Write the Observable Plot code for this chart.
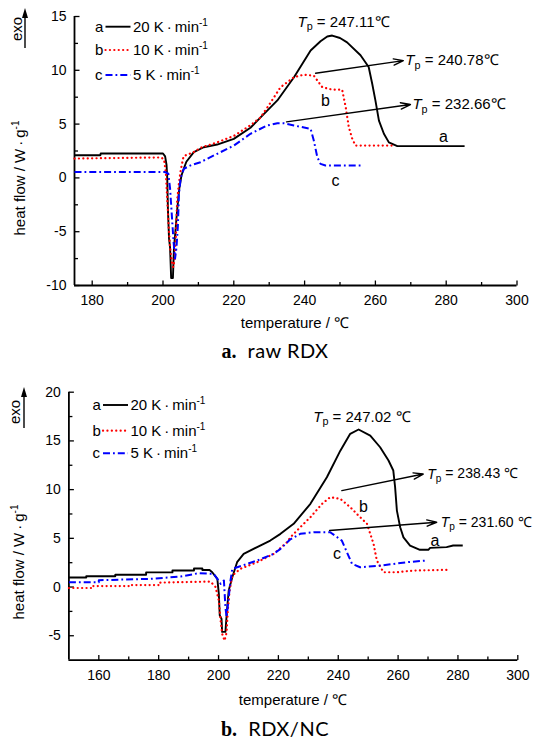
<!DOCTYPE html>
<html><head><meta charset="utf-8">
<script src="https://cdn.jsdelivr.net/npm/d3@7"></script>
<script src="https://cdn.jsdelivr.net/npm/@observablehq/plot@0.6"></script>
<style>
body{margin:0;background:#fff;}
#fig{position:relative;width:536px;height:742px;background:#fff;font-family:"Liberation Sans",Arial,sans-serif;overflow:hidden;}
#fig .panel{position:absolute;left:0;}
#fig .cap{position:absolute;left:0;width:536px;text-align:center;font-size:20px;line-height:24px;padding-left:14px;box-sizing:border-box;}
#fig .cap b{font-family:"Liberation Serif","Times New Roman",serif;font-weight:bold;}
#fig .cap span{font-family:Lato,"Open Sans",sans-serif;letter-spacing:0.5px;}
#overlay{position:absolute;left:0;top:0;pointer-events:none;}
</style></head><body><div id="fig"></div>
<script>
// ---------- Panel a: raw RDX ----------
const rdx20T = [175, 182.3, 182.4, 200.0, 200.6, 201.0, 201.2, 201.4, 201.7, 202.0, 202.3, 202.8, 203.1, 203.5, 204.0, 204.6, 205.2, 205.8, 206.6, 208.7, 211.5, 215.3, 220.0, 224.7, 227.5, 232.3, 237.0, 241.7, 244.5, 246.4, 247.8, 250.0, 252.0, 255.8, 258.1, 259.1, 260.0, 261.0, 262.4, 263.8, 266.2, 285.2];
const rdx20Q = [2.1, 2.1, 2.27, 2.27, 2.0, 1.2, 0, -3.0, -5.6, -6.5, -9.3, -9.3, -6.5, -5.0, -3.0, -1.0, 0.2, 0.8, 1.5, 2.4, 2.85, 3.1, 3.63, 4.66, 5.6, 7.2, 9.36, 11.84, 12.7, 13.14, 13.23, 13.0, 12.6, 11.4, 10.3, 8.75, 7.2, 5.33, 4.1, 3.3, 2.95, 2.95];
const rdx10T = [175, 199.5, 200.3, 200.8, 201.2, 201.6, 202.0, 202.5, 202.9, 203.3, 203.6, 204.0, 204.5, 205.0, 205.8, 207.0, 208.2, 210.6, 215.3, 220.0, 224.7, 227.5, 230.0, 233.2, 237.0, 239.8, 242.6, 245.0, 247.8, 250.6, 251.6, 252.5, 253.5, 254.4, 265.2];
const rdx10Q = [1.8, 1.9, 1.7, 0.5, -2.0, -4.5, -6.5, -7.8, -8.3, -7.5, -5.8, -2.1, -0.5, 0.7, 2.0, 2.2, 2.3, 2.8, 3.3, 3.9, 4.9, 5.6, 6.8, 8.43, 9.36, 9.6, 9.5, 8.43, 8.2, 8.2, 6.6, 4.7, 3.6, 3.0, 3.0];
const rdx5T = [175, 200.5, 201.5, 202.0, 202.5, 203.0, 203.4, 203.8, 204.2, 204.5, 205.0, 205.9, 208.0, 210.6, 215.3, 220.0, 224.7, 229.4, 232.3, 234.1, 237.0, 241.7, 242.6, 243.6, 244.5, 245.9, 255.8];
const rdx5Q = [0.55, 0.55, 0.4, -1.0, -3.5, -6.0, -7.5, -6.5, -4.5, -1.5, 0.0, 0.85, 1.2, 1.46, 2.24, 3.0, 4.1, 4.87, 5.08, 5.08, 4.87, 4.56, 3.48, 1.92, 1.3, 1.15, 1.15];

const rdxPeakT = [251], rdxPeakQ = [14.5], rdxPeakText = ["Tp = 247.11℃"];
const rdxArrX1 = [243.1, 234.9], rdxArrY1 = [9.73, 5.21], rdxArrX2 = [267.9, 269.9], rdxArrY2 = [10.9, 6.82];
const rdxArrText = ["Tp = 240.78℃", "Tp = 232.66℃"];
const rdxLetT = [279.2, 245.9, 248.7], rdxLetQ = [3.85, 7.2, -0.24];

const rdxXTicks = [180, 200, 220, 240, 260, 280, 300];
const rdxXMinor = [190, 210, 230, 250, 270, 290];
const rdxYTicks = [-10, -5, 0, 5, 10, 15];
const rdxYMinor = [-7.5, -2.5, 2.5, 7.5, 12.5];

// ---------- Panel b: RDX/NC ----------
const nc20T = [150, 155.8, 155.8, 165.5, 165.5, 175.8, 175.8, 184.6, 184.6, 191.8, 191.8, 194.6, 194.6, 197.0, 197.9, 199.6, 200.1, 200.4, 201.0, 201.2, 202.3, 202.9, 203.4, 204.6, 206.2, 208.4, 212.9, 217.3, 220.7, 225.1, 230.7, 236.2, 240.7, 244.0, 246.8, 250.7, 254.0, 256.8, 258.4, 259.0, 259.6, 260.7, 261.8, 264.0, 267.3, 270.1, 270.7, 276.2, 278.4, 281.6];
const nc20Q = [0.98, 0.98, 1.1, 1.1, 1.26, 1.26, 1.5, 1.5, 1.7, 1.7, 1.9, 1.9, 1.75, 1.75, 1.52, 0.84, -0.7, -2.9, -3.27, -4.6, -4.6, -2.07, -0.36, 1.0, 2.55, 3.4, 4.1, 4.77, 5.46, 6.49, 8.54, 11.27, 14.0, 15.73, 16.17, 15.55, 14.35, 12.99, 11.96, 10.25, 7.85, 6.14, 5.1, 4.26, 3.82, 3.82, 4.02, 4.1, 4.26, 4.26];
const nc10T = [150, 158, 158, 170, 170, 180, 180, 187.3, 197.3, 199.0, 200.1, 200.7, 201.2, 202.0, 202.7, 203.1, 203.7, 204.6, 207.3, 212.9, 218.4, 222.9, 224.0, 227.3, 230.7, 234.6, 237.3, 240.7, 244.0, 246.2, 249.6, 251.8, 252.9, 255.1, 259.6, 265.1, 277.3];
const nc10Q = [-0.1, -0.1, 0.1, 0.1, 0.2, 0.2, 0.45, 0.5, 0.56, 0.0, -1.39, -3.44, -4.8, -5.5, -4.64, -2.4, -0.36, 1.18, 1.87, 2.55, 3.4, 4.6, 5.1, 6.14, 7.17, 8.54, 9.22, 9.05, 8.2, 7.51, 6.49, 4.43, 2.72, 1.52, 1.52, 1.69, 1.77];
const nc5T = [150, 160, 160, 177.3, 187.3, 193.4, 198.4, 199.6, 200.7, 201.8, 202.3, 202.7, 203.4, 204.0, 204.6, 207.9, 212.9, 218.4, 220.7, 224.0, 227.3, 231.8, 237.3, 241.2, 242.9, 244.6, 247.3, 254.0, 262.9, 269.6];
const nc5Q = [0.5, 0.5, 0.7, 0.84, 1.08, 1.42, 1.35, 0.84, 0.33, 0.67, -2.07, -3.1, -1.05, 0.67, 1.87, 2.2, 2.72, 3.4, 3.92, 4.9, 5.46, 5.63, 5.63, 4.77, 3.57, 2.38, 2.03, 2.2, 2.55, 2.72];

const ncPeakT = [247.9], ncPeakQ = [17.43], ncPeakText = ["Tp = 247.02 ℃"];
const ncArrX1 = [241.2, 237.1], ncArrY1 = [9.9, 5.8], ncArrX2 = [268.4, 272.9], ncArrY2 = [11.6, 6.65];
const ncArrText = ["Tp = 238.43 ℃", "Tp = 231.60 ℃"];
const ncLetT = [272.3, 248.4, 239.6], ncLetQ = [4.77, 8.2, 3.4];

const ncXTicks = [160, 180, 200, 220, 240, 260, 280, 300];
const ncXMinor = [170, 190, 210, 230, 250, 270, 290];
const ncYTicks = [-5, 0, 5, 10, 15, 20];
const ncYMinor = [-2.5, 2.5, 7.5, 12.5, 17.5];

const letters = ["a", "b", "c"];
const rateLabels = ["20 K·min", "10 K·min", "5 K·min"];
const seriesColors = ["#000000", "#ff0000", "#0000ff"];
const seriesDash = [null, "0.1,4.3", "7,3,1.8,3"];
const seriesWidth = [1.9, 2.2, 2.0];

const zip = (T, Q) => T.map((t, i) => ({T: t, Q: Q[i]}));

// inward tick symbols
const tickUp = len => ({draw(c) { c.moveTo(0, 0); c.lineTo(0, -len); }});
const tickRight = len => ({draw(c) { c.moveTo(0, 0); c.lineTo(len, 0); }});

function makePanel(cfg) {
  const seriesMarks = cfg.series.map((s, k) =>
    Plot.line(zip(s[0], s[1]), {x: "T", y: "Q", stroke: seriesColors[k], strokeWidth: seriesWidth[k],
      strokeDasharray: seriesDash[k], strokeLinejoin: "round", strokeLinecap: k === 1 ? "round" : "butt"}));
  const peak = cfg.peakT.map((t, i) => ({T: t, Q: cfg.peakQ[i], text: cfg.peakText[i]}));
  const arr = cfg.ax1.map((x, i) => ({x1: x, y1: cfg.ay1[i], x2: cfg.ax2[i], y2: cfg.ay2[i], text: cfg.arrText[i]}));
  const lets = cfg.letT.map((t, i) => ({T: t, Q: cfg.letQ[i], text: letters[i]}));
  const fmt = d => String(d);
  const x0 = cfg.xDomain[0], y0 = cfg.yDomain[0];
  const p = Plot.plot({
    width: 536, height: cfg.height,
    marginTop: cfg.mt, marginBottom: cfg.mb, marginLeft: cfg.ml, marginRight: cfg.mr,
    x: {domain: cfg.xDomain}, y: {domain: cfg.yDomain},
    style: {fontFamily: "'Liberation Sans', Arial, sans-serif", fontSize: "14px", color: "#000", background: "transparent", overflow: "visible"},
    marks: [
      Plot.axisX({ticks: cfg.xTicks, tickSize: 0, tickPadding: 10, tickFormat: fmt, label: null, fontSize: 14}),
      Plot.axisY({ticks: cfg.yTicks, tickSize: 0, tickPadding: 8, tickFormat: fmt, label: null, fontSize: 14}),
      Plot.dot(cfg.xTicks, {x: d => d, y: () => y0, symbol: tickUp(5), stroke: "#000", strokeWidth: 1.3, r: 3}),
      Plot.dot(cfg.xMinor, {x: d => d, y: () => y0, symbol: tickUp(3.5), stroke: "#000", strokeWidth: 1.3, r: 3}),
      Plot.dot(cfg.yTicks, {y: d => d, x: () => x0, symbol: tickRight(5), stroke: "#000", strokeWidth: 1.3, r: 3}),
      Plot.dot(cfg.yMinor, {y: d => d, x: () => x0, symbol: tickRight(3.5), stroke: "#000", strokeWidth: 1.3, r: 3}),
      Plot.ruleY([y0], {stroke: "#000", strokeWidth: 1.8}),
      Plot.ruleX([x0], {stroke: "#000", strokeWidth: 1.8}),
      ...seriesMarks,
      Plot.arrow(arr, {x1: "x1", y1: "y1", x2: "x2", y2: "y2", stroke: "#000", strokeWidth: 1.4, headLength: 11, headAngle: 36}),
      Plot.text(arr, {x: "x2", y: "y2", text: "text", textAnchor: "start", dx: cfg.gap, fontSize: cfg.arrFont, lineAnchor: "middle"}),
      Plot.text(peak, {x: "T", y: "Q", text: "text", textAnchor: "middle", fontSize: 15, lineAnchor: "middle"}),
      Plot.text(lets, {x: "T", y: "Q", text: "text", textAnchor: "middle", fontSize: 16, lineAnchor: "middle"})
    ]
  });
  // italic T with subscript p
  const ns = "http://www.w3.org/2000/svg";
  p.querySelectorAll("text").forEach(t => {
    const s = t.textContent;
    if (!s.startsWith("Tp")) return;
    while (t.firstChild) t.removeChild(t.firstChild);
    const a = document.createElementNS(ns, "tspan"); a.setAttribute("font-style", "italic"); a.textContent = "T";
    const b = document.createElementNS(ns, "tspan"); b.setAttribute("font-size", "0.72em"); b.setAttribute("dy", "0.3em"); b.textContent = "p";
    const c = document.createElementNS(ns, "tspan"); c.setAttribute("dy", "-0.22em"); c.textContent = s.slice(2);
    t.append(a, b, c);
  });
  p.classList.add("panel");
  p.style.top = cfg.top + "px";
  return p;
}

const fig = document.getElementById("fig");
fig.appendChild(makePanel({
  top: 0, height: 335, mt: 16, mb: 50, ml: 74, mr: 19.5,
  xDomain: [175, 300], yDomain: [-10, 15],
  xTicks: rdxXTicks, xMinor: rdxXMinor, yTicks: rdxYTicks, yMinor: rdxYMinor,
  series: [[rdx20T, rdx20Q], [rdx10T, rdx10Q], [rdx5T, rdx5Q]],
  peakT: rdxPeakT, peakQ: rdxPeakQ, peakText: rdxPeakText,
  ax1: rdxArrX1, ay1: rdxArrY1, ax2: rdxArrX2, ay2: rdxArrY2, arrText: rdxArrText, gap: 2, arrFont: 15,
  letT: rdxLetT, letQ: rdxLetQ
}));
fig.appendChild(makePanel({
  top: 370, height: 340, mt: 21.7, mb: 50.4, ml: 68.4, mr: 18.7,
  xDomain: [150, 300], yDomain: [-7.5, 20],
  xTicks: ncXTicks, xMinor: ncXMinor, yTicks: ncYTicks, yMinor: ncYMinor,
  series: [[nc20T, nc20Q], [nc10T, nc10Q], [nc5T, nc5Q]],
  peakT: ncPeakT, peakQ: ncPeakQ, peakText: ncPeakText,
  ax1: ncArrX1, ay1: ncArrY1, ax2: ncArrX2, ay2: ncArrY2, arrText: ncArrText, gap: 4, arrFont: 14,
  letT: ncLetT, letQ: ncLetQ
}));

// captions
const capA = document.createElement("div"); capA.className = "cap"; capA.style.top = "338px";
capA.innerHTML = "<b>a.</b>&nbsp; <span>raw RDX</span>";
const capB = document.createElement("div"); capB.className = "cap"; capB.style.top = "716px";
capB.innerHTML = "<b>b.</b>&nbsp; <span>RDX/NC</span>";
fig.append(capA, capB);

// overlay: legends, exo arrows, axis titles
function legend(x0, rows) {
  let s = "";
  rows.forEach((y, i) => {
    s += `<text x="${x0}" y="${y + 5}" font-size="15">${letters[i]}</text>`;
    s += `<line x1="${x0 + 10.5}" x2="${x0 + 35.5}" y1="${y}" y2="${y}" stroke="${seriesColors[i]}" stroke-width="${seriesWidth[i]}" ${seriesDash[i] ? `stroke-dasharray="${seriesDash[i]}"` : ""} ${i === 1 ? 'stroke-linecap="round"' : ""}/>`;
    s += `<text x="${x0 + 38}" y="${y + 5}" font-size="15">${rateLabels[i].replace("K·", "K\u2009·\u2009")}<tspan font-size="10" dy="-6">-1</tspan></text>`;
  });
  return s;
}
function exo(xb, yc, ax, ytop, ybot) {
  return `<text transform="translate(${xb},${yc}) rotate(-90)" text-anchor="middle" font-size="15">exo</text>
  <line x1="${ax}" x2="${ax}" y1="${ybot}" y2="${ytop + 8}" stroke="#000" stroke-width="1.4"/>
  <path d="M${ax - 3},${ytop + 10} L${ax},${ytop} L${ax + 3},${ytop + 10} Z" fill="#000"/>`;
}
function ytitle(xb, yc) {
  return `<text transform="translate(${xb},${yc}) rotate(-90)" text-anchor="middle" font-size="15">heat flow / W\u2009·\u2009g<tspan font-size="10" dy="-6">-1</tspan></text>`;
}
const ov = `<svg id="overlay" width="536" height="742" font-family="'Liberation Sans', Arial, sans-serif" fill="#000">
${legend(95, [26.7, 50, 75])}
${legend(92.5, [405, 430.7, 453.3])}
${exo(22, 29, 25, 8, 48)}
${exo(20, 412, 24, 387, 428)}
${ytitle(25, 178)}
${ytitle(24, 562)}
<text x="295" y="328" text-anchor="middle" font-size="15">temperature / ℃</text>
<text x="293" y="705" text-anchor="middle" font-size="15">temperature / ℃</text>
</svg>`;
fig.insertAdjacentHTML("beforeend", ov);
</script></body></html>
